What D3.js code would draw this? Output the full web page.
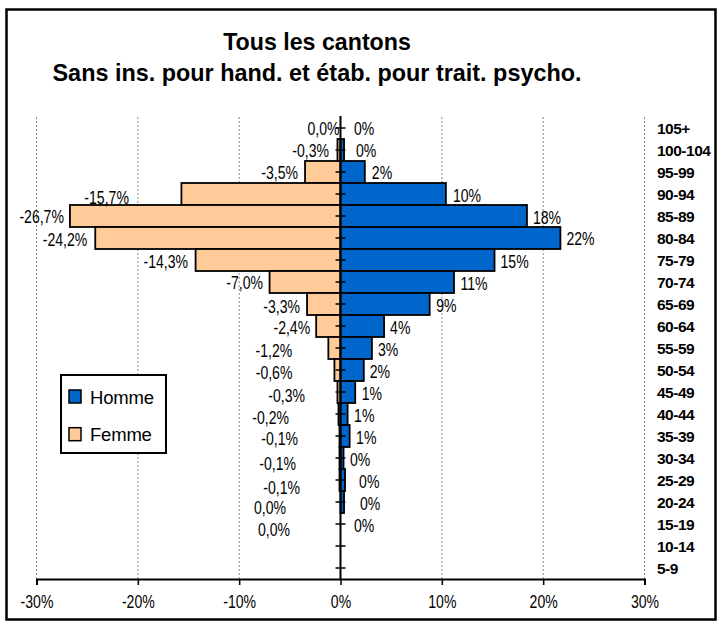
<!DOCTYPE html>
<html><head><meta charset="utf-8">
<script src="https://cdn.jsdelivr.net/npm/d3@7"></script>
<style>
body{margin:0;background:#fff;}
text{font-family:"Liberation Sans",Arial,sans-serif;fill:#000;}
</style></head>
<body><svg id="c" width="719" height="622"></svg>
<script>
// Age groups, top to bottom
const categories = ["105+","100-104","95-99","90-94","85-89","80-84","75-79","70-74","65-69","60-64","55-59","50-54","45-49","40-44","35-39","30-34","25-29","20-24","15-19","10-14","5-9"];
// Percentages (female shown to the left, negative)
const femme = [0.0,-0.3,-3.5,-15.7,-26.7,-24.2,-14.3,-7.0,-3.3,-2.4,-1.2,-0.6,-0.3,-0.2,-0.1,-0.1,-0.1,0.0,0.0,null,null];
const homme = [0.0,0.35,2.4,10.4,18.4,21.7,15.2,11.2,8.8,4.3,3.1,2.3,1.45,0.7,0.9,0.3,0.45,0.35,0.0,null,null];
const xTicks = [-30,-20,-10,0,10,20,30];
const titleLines = ["Tous les cantons","Sans ins. pour hand. et étab. pour trait. psycho."];
const seriesNames = ["Homme","Femme"];
// label nudges (px) as manually placed in the original
const femmeLabelNudge = [[5,0],[-2.5,0],[-1,0],[-46.5,3],[0,0],[-2,1],[-1.5,1],[-0.5,0],[-1,2],[0,1],[-30,2],[-36,2.5],[-26.5,3],[-43.5,3],[-35.5,2],[-37.5,5],[-33.5,7],[-48.5,5],[-44.5,5],[0,0],[0,0]];
const hommeLabelNudge = [[7.5,0],[6,0],[1,0],[1,1],[0,1],[0,0],[0,1],[0.5,1],[0.5,1],[0,1],[0,1],[0,1],[0.5,1],[0.5,1],[0.5,1],[0.5,1],[8,1],[10,1],[7.5,1],[0,0],[0,0]];

const colors = {Homme:"#0066CC", Femme:"#FFCC99"};
const svg = d3.select("#c");
const x = d3.scaleLinear().domain([-30,30]).range([36.5,644.5]);
const y = d3.scaleBand().domain(categories).range([117,579]).padding(0);
const bw = y.bandwidth();
const SQ = 0.76;
const FS = "18.5px";

// outer frame
svg.append("rect").attr("x",6.5).attr("y",9.5).attr("width",709).attr("height",610)
  .attr("fill","none").attr("stroke","#000").attr("stroke-width",2.5);

// titles
svg.append("text").attr("x",317).attr("y",50).attr("text-anchor","middle")
  .style("font-size","23.2px").style("font-weight","bold").text(titleLines[0]);
svg.append("text").attr("x",317).attr("y",81).attr("text-anchor","middle")
  .style("font-size","23.4px").style("font-weight","bold").text(titleLines[1]);

// gridlines
svg.append("g").selectAll("line").data(xTicks.filter(d=>d!==0)).join("line")
  .attr("x1",d=>x(d)).attr("x2",d=>x(d)).attr("y1",117).attr("y2",579)
  .attr("stroke","#888").attr("stroke-width",1).attr("stroke-dasharray","2,2");

// bars
const rows = categories.map((c,i)=>({c,i,f:femme[i],h:homme[i]}));
svg.append("g").selectAll("rect").data(rows.filter(d=>d.f!==null)).join("rect")
  .attr("x",d=>x(Math.min(0,d.f))).attr("width",d=>Math.abs(x(d.f)-x(0)))
  .attr("y",d=>y(d.c)).attr("height",bw)
  .attr("fill",colors.Femme).attr("stroke","#000").attr("stroke-width",1.8);
svg.append("g").selectAll("rect").data(rows.filter(d=>d.h!==null)).join("rect")
  .attr("x",x(0)).attr("width",d=>Math.abs(x(d.h)-x(0)))
  .attr("y",d=>y(d.c)).attr("height",bw)
  .attr("fill",colors.Homme).attr("stroke","#000").attr("stroke-width",1.8);

// bottom axis
const ax = svg.append("g").attr("transform","translate(0,579)")
  .call(d3.axisBottom(x).tickValues(xTicks).tickSize(6).tickPadding(10).tickFormat(d=>d+"%"));
ax.select(".domain").attr("stroke","#000").attr("stroke-width",2);
ax.selectAll(".tick line").attr("stroke","#000").attr("stroke-width",1.5);
ax.selectAll(".tick text").style("font-size",FS).style("font-family","Liberation Sans, Arial, sans-serif")
  .attr("transform",`scale(${SQ},1)`);

// vertical axis at 0
const vg = svg.append("g");
vg.append("line").attr("x1",x(0)).attr("x2",x(0)).attr("y1",116).attr("y2",579)
  .attr("stroke","#000").attr("stroke-width",2);
vg.selectAll("line.t").data(categories).join("line").attr("class","t")
  .attr("x1",x(0)-5).attr("x2",x(0)+5)
  .attr("y1",d=>y(d)+bw/2).attr("y2",d=>y(d)+bw/2)
  .attr("stroke","#000").attr("stroke-width",1.5);

// category labels on the right
const ay = svg.append("g").attr("transform","translate(645,0)")
  .call(d3.axisRight(y).tickSize(0).tickPadding(12));
ay.select(".domain").remove();
ay.selectAll(".tick text").style("font-size","15.5px").style("font-weight","bold")
  .style("font-family","Liberation Sans, Arial, sans-serif").attr("dy","0.36em")
  .style("letter-spacing","-0.5px");

// data labels
const fmtF = v => (v===0?"0,0":d3.format(".1f")(v).replace("−","-").replace(".",",")) + "%";
const fmtH = v => Math.round(v) + "%";
const lg = svg.append("g");
rows.forEach(d=>{
  if(d.f!==null){
    const n = femmeLabelNudge[d.i];
    lg.append("g").attr("transform",`translate(${x(d.f)-6+n[0]},${y(d.c)+bw/2+n[1]})`)
      .append("text").attr("text-anchor","end").attr("dy","0.36em")
      .attr("transform",`scale(${SQ},1)`).style("font-size",FS).text(fmtF(d.f));
  }
  if(d.h!==null){
    const n = hommeLabelNudge[d.i];
    lg.append("g").attr("transform",`translate(${x(d.h)+6+n[0]},${y(d.c)+bw/2+n[1]})`)
      .append("text").attr("text-anchor","start").attr("dy","0.36em")
      .attr("transform",`scale(${SQ},1)`).style("font-size",FS).text(fmtH(d.h));
  }
});

// legend
const leg = svg.append("g");
leg.append("rect").attr("x",61).attr("y",375).attr("width",105).attr("height",78)
  .attr("fill","#fff").attr("stroke","#000").attr("stroke-width",2);
seriesNames.forEach((s,i)=>{
  leg.append("rect").attr("x",69).attr("y",390+i*37.7).attr("width",12).attr("height",13)
    .attr("fill",colors[s]).attr("stroke","#000").attr("stroke-width",1.5);
  leg.append("text").attr("x",90).attr("y",404+i*37.3).style("font-size","18.5px")
    .style("letter-spacing","-0.2px").text(s);
});
</script></body></html>
